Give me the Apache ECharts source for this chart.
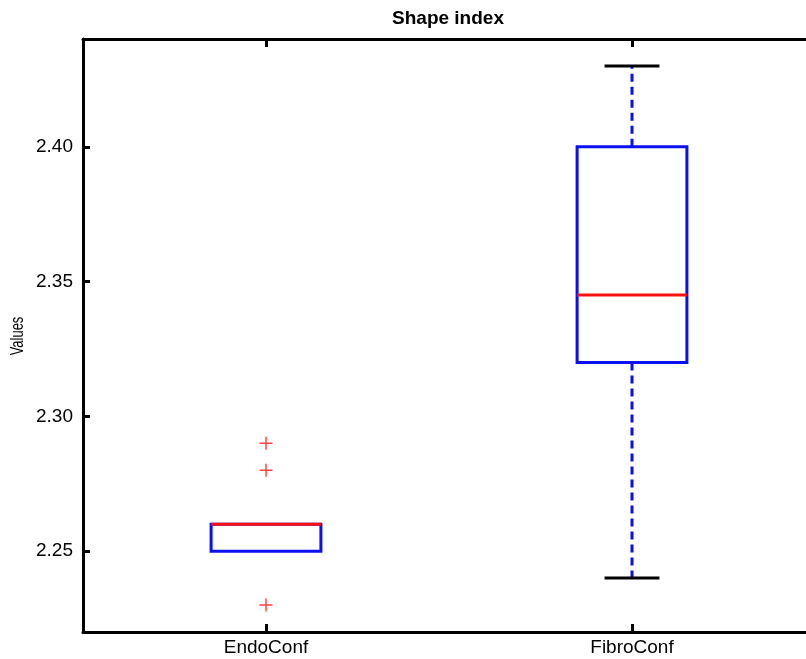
<!DOCTYPE html>
<html>
<head>
<meta charset="utf-8">
<script src="https://cdn.jsdelivr.net/npm/echarts@6/dist/echarts.min.js"></script>
<style>
  html, body { margin: 0; padding: 0; background: #ffffff; overflow: hidden; }
  #chart { width: 806px; height: 659px; }
</style>
</head>
<body>
<div id="chart"></div>
<script>
// Groups and their five-number summaries
var categories = ['EndoConf', 'FibroConf'];
var lowerWhisker = [2.25, 2.24];
var lowerQuartile = [2.25, 2.32];
var medians = [2.26, 2.345];
var upperQuartile = [2.26, 2.40];
var upperWhisker = [2.26, 2.43];

// Points beyond the whiskers: [group index, value]
var outliers = [[0, 2.29], [0, 2.28], [0, 2.23]];

var yTicks = [2.25, 2.30, 2.35, 2.40];

var summary = categories.map(function (c, i) {
  return [i, lowerWhisker[i], lowerQuartile[i], medians[i], upperQuartile[i], upperWhisker[i]];
});

var BLUE = '#0a10f0';
var RED = '#ff1010';
var FONT = 'Liberation Sans, Arial, sans-serif';

function renderBox(params, api) {
  var idx = api.value(0);
  var lwV = api.value(1), q1V = api.value(2), q3V = api.value(4), uwV = api.value(5);
  var lw = api.coord([idx, lwV]);
  var q1 = api.coord([idx, q1V]);
  var md = api.coord([idx, api.value(3)]);
  var q3 = api.coord([idx, q3V]);
  var uw = api.coord([idx, uwV]);
  var band = api.size([1, 0])[0];
  var half = band * 0.15;
  var capHalf = band * 0.075;
  var x = q1[0];
  var children = [];
  // dashed whiskers with black end caps
  if (uwV > q3V) {
    children.push({ type: 'line', shape: { x1: x, y1: q3[1], x2: x, y2: uw[1] },
      style: { stroke: BLUE, lineWidth: 3, lineDash: [8, 5] } });
    children.push({ type: 'line', shape: { x1: x - capHalf, y1: uw[1], x2: x + capHalf, y2: uw[1] },
      style: { stroke: '#000', lineWidth: 3 } });
  }
  if (lwV < q1V) {
    children.push({ type: 'line', shape: { x1: x, y1: q1[1], x2: x, y2: lw[1] },
      style: { stroke: BLUE, lineWidth: 3, lineDash: [8, 5] } });
    children.push({ type: 'line', shape: { x1: x - capHalf, y1: lw[1], x2: x + capHalf, y2: lw[1] },
      style: { stroke: '#000', lineWidth: 3 } });
  }
  // box
  children.push({ type: 'rect', shape: { x: x - half, y: q3[1], width: half * 2, height: q1[1] - q3[1] },
    style: { stroke: BLUE, fill: null, lineWidth: 3 } });
  // median
  children.push({ type: 'line', shape: { x1: x - half, y1: md[1], x2: x + half, y2: md[1] },
    style: { stroke: RED, lineWidth: 3 } });
  return { type: 'group', children: children };
}

var chart = echarts.init(document.getElementById('chart'), null, { renderer: 'canvas' });

var axisLineStyle = { color: '#000', width: 3 };

chart.setOption({
  backgroundColor: '#ffffff',
  animation: false,
  graphic: [{
    type: 'text',
    x: 448,
    y: 19,
    style: {
      text: 'Shape index',
      fill: '#000',
      font: 'bold 19px ' + FONT,
      textAlign: 'center',
      textVerticalAlign: 'middle'
    }
  }, {
    type: 'text',
    x: 18,
    y: 336,
    rotation: Math.PI / 2,
    scaleX: 0.72,
    style: {
      text: 'Values',
      fill: '#000',
      font: '18px ' + FONT,
      textAlign: 'center',
      textVerticalAlign: 'middle'
    }
  }],
  // the plot box runs past the right edge of the page
  grid: { left: 83, width: 732, top: 39, bottom: 27, containLabel: false, outerBoundsMode: 'none' },
  xAxis: [{
    type: 'category',
    data: categories,
    position: 'bottom',
    boundaryGap: true,
    axisLine: { show: true, lineStyle: axisLineStyle },
    axisTick: { show: true, inside: true, length: 8, alignWithLabel: true, lineStyle: { color: '#000', width: 3 } },
    axisLabel: { color: '#000', fontFamily: FONT, fontSize: 19, margin: 6 },
    splitLine: { show: false }
  }, {
    type: 'category',
    data: categories,
    position: 'top',
    boundaryGap: true,
    axisLine: { show: true, lineStyle: axisLineStyle },
    axisTick: { show: true, inside: true, length: 8, alignWithLabel: true, lineStyle: { color: '#000', width: 3 } },
    axisLabel: { show: false },
    splitLine: { show: false }
  }],
  yAxis: [{
    type: 'value',
    min: 2.22,
    max: 2.44,
    position: 'left',
    axisLine: { show: true, lineStyle: axisLineStyle },
    axisTick: { show: true, inside: true, length: 7, customValues: yTicks, lineStyle: { color: '#000', width: 3 } },
    axisLabel: {
      color: '#000', fontFamily: FONT, fontSize: 19, margin: 10,
      customValues: yTicks,
      formatter: function (v) { return v.toFixed(2); }
    },
    splitLine: { show: false }
  }],
  series: [{
    type: 'custom',
    xAxisIndex: 0,
    yAxisIndex: 0,
    renderItem: renderBox,
    encode: { x: 0, y: [1, 2, 3, 4, 5] },
    data: summary,
    z: 3
  }, {
    type: 'scatter',
    xAxisIndex: 0,
    yAxisIndex: 0,
    data: outliers,
    symbol: 'path://M4.45,0h1.1v10h-1.1z M0,4.45h10v1.1h-10z',
    symbolSize: 13,
    itemStyle: { color: RED },
    z: 4
  }]
});
</script>
</body>
</html>
